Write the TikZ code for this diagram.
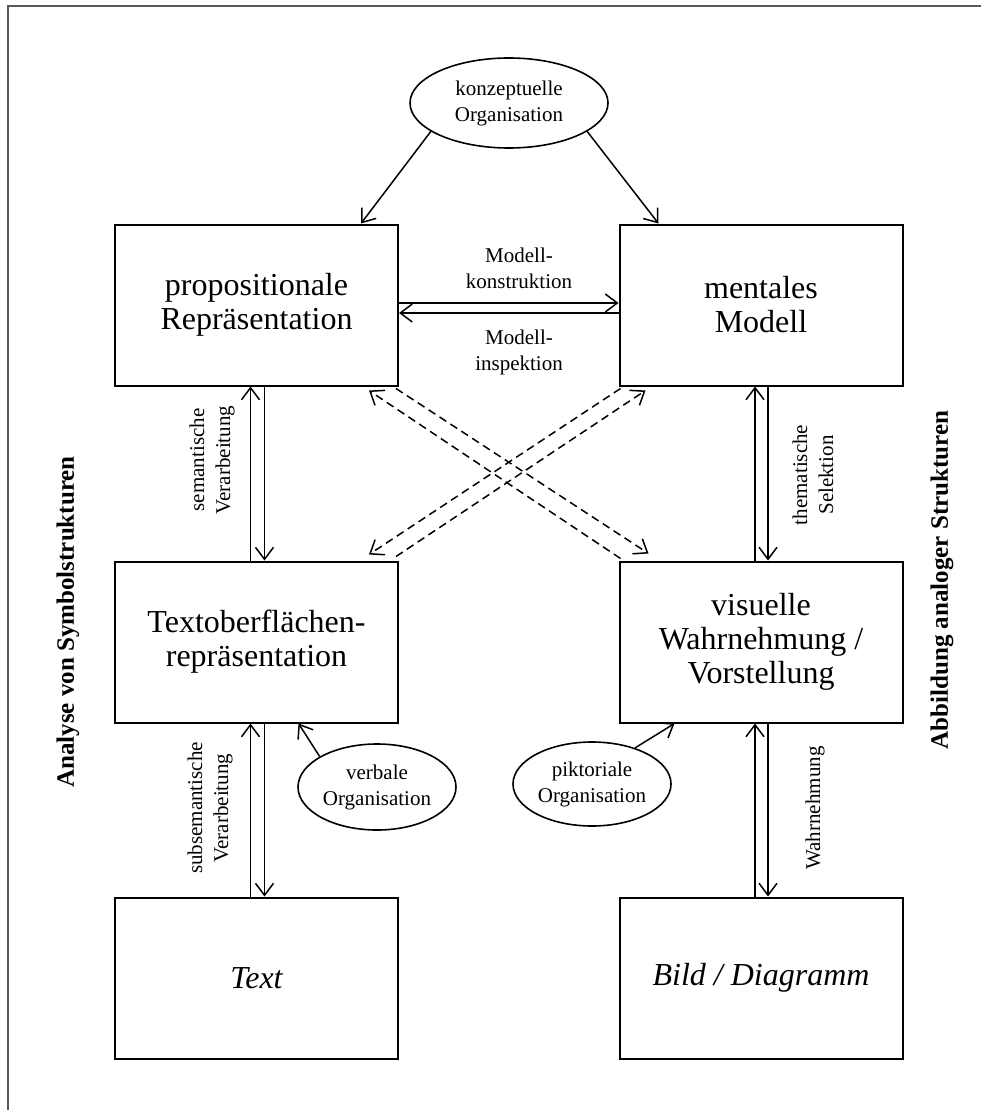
\documentclass[tikz,border=0pt]{standalone}
\usepackage{fontspec}
\setmainfont{Liberation Serif}
\usetikzlibrary{arrows.meta,shapes.geometric,calc}

\begin{document}
\begin{tikzpicture}[x=1pt,y=-1pt,
  box/.style={draw,line width=2pt,minimum width=283pt,minimum height=161pt,
    align=center,inner sep=0pt,font=\fontsize{32}{34}\selectfont},
  org/.style={draw,ellipse,line width=1.6pt,align=center,inner sep=0pt,
    font=\fontsize{21}{26}\selectfont},
  lbl/.style={align=center,inner sep=0pt,font=\fontsize{21}{26}\selectfont},
  side/.style={rotate=90,inner sep=0pt,font=\fontsize{25}{30}\selectfont\bfseries},
  conn/.style={line width=1.5pt,-{Straight Barb[length=12pt,width=18pt]}},
  dconn/.style={conn,dash pattern=on 8pt off 5pt}
]
\useasboundingbox (0,0) rectangle (981,1110);
% frame
\draw[gray!70!black,line width=1.5pt] (8,1110) -- (8,6) -- (981,6);

% boxes
\node[box] (prop)  at (256.5,305) {propositionale\\Repräsentation};
\node[box] (ment)  at (761,305)   {mentales\\Modell};
\node[box] (texto) at (256.5,642) {Textoberflächen-\\repräsentation};
\node[box] (vis)   at (761,642)   {visuelle\\Wahrnehmung /\\Vorstellung};
\node[box] (txt)   at (256.5,978) {\itshape Text};
\node[box] (bild)  at (761,978)   {\itshape Bild / Diagramm};

% organisation ellipses
\node[org,minimum width=198pt,minimum height=90pt] (konz) at (509,103) {konzeptuelle\\Organisation};
\node[org,minimum width=158pt,minimum height=86pt] (verb) at (377,787) {verbale\\Organisation};
\node[org,minimum width=158pt,minimum height=84pt] (pikt) at (592,784) {piktoriale\\Organisation};

% labels
\node[lbl] (mk) at (519,268) {Modell-\\konstruktion};
\node[lbl] (mi) at (519,352) {Modell-\\inspektion};
\node[lbl,rotate=90] (sem)    at (212,460) {semantische\\Verarbeitung};
\node[lbl,rotate=90] (them)   at (813,475) {thematische\\Selektion};
\node[lbl,rotate=90] (subsem) at (210,808) {subsemantische\\Verarbeitung};
\node[lbl,rotate=90] (wahr)   at (815,808) {Wahrnehmung};
\node[side] (links)  at (68,622)  {Analyse von Symbolstrukturen};
\node[side] (rechts) at (942,580) {Abbildung analoger Strukturen};

% conceptual organisation
\draw[conn] (konz.200) -- ($(prop.north east)+(-38,0)$);
\draw[conn] (konz.-20) -- ($(ment.north west)+(40,0)$);

% model construction / inspection
\draw[conn] ($(prop.east)+(0,-2)$) -- ($(ment.west)+(0,-2)$);
\draw[conn] ($(ment.west)+(0,8)$) -- ($(prop.east)+(0,8)$);

% left column
\draw[conn] ($(texto.north)+(-6,0)$) -- ($(prop.south)+(-6,0)$);
\draw[conn] ($(prop.south)+(8,0)$) -- ($(texto.north)+(8,0)$);
\draw[conn] ($(txt.north)+(-6,0)$) -- ($(texto.south)+(-6,0)$);
\draw[conn] ($(texto.south)+(8,0)$) -- ($(txt.north)+(8,0)$);

% right column
\draw[conn] ($(vis.north)+(-6,0)$) -- ($(ment.south)+(-6,0)$);
\draw[conn] ($(ment.south)+(7,0)$) -- ($(vis.north)+(7,0)$);
\draw[conn] ($(bild.north)+(-6,0)$) -- ($(vis.south)+(-6,0)$);
\draw[conn] ($(vis.south)+(7,0)$) -- ($(bild.north)+(7,0)$);

% cross links
\draw[dconn] ($(prop.south east)+(-3,2)$) -- ($(vis.north west)+(30,-7)$);
\draw[dconn] ($(vis.north west)+(2,-2)$) -- ($(prop.south east)+(-30,4)$);
\draw[dconn] ($(texto.north east)+(-3,-4)$) -- ($(ment.south west)+(27,4)$);
\draw[dconn] ($(ment.south west)+(2,2)$) -- ($(texto.north east)+(-30,-6)$);

% verbal / pictorial organisation
\draw[conn] (verb.152) -- ($(texto.south)+(42,0)$);
\draw[conn] (pikt.40) -- ($(vis.south west)+(56,0)$);
\end{tikzpicture}
\end{document}
